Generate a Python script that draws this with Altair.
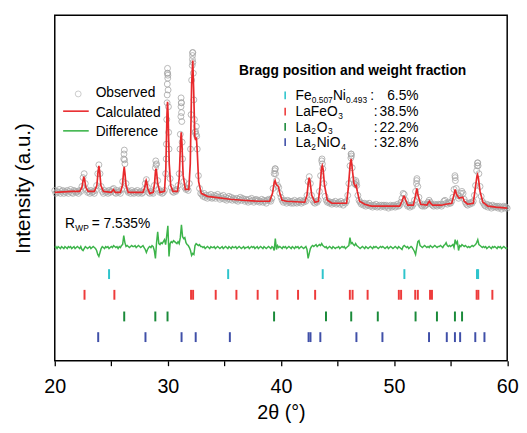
import altair as alt
import pandas as pd
import numpy as np

FONT = "Liberation Sans"

# ---------------- data (arbitrary intensity units) -------------
calc_tth = [20.00, 21.50, 22.20, 22.40, 22.50, 22.57, 22.65, 22.75, 22.95, 23.50,
            23.72, 23.83, 23.90, 23.97, 24.08, 24.30, 25.00, 25.18, 25.35, 25.80,
            25.98, 26.08, 26.14, 26.20, 26.30, 26.50, 27.80, 27.95, 28.03, 28.08,
            28.13, 28.22, 28.40, 28.70, 28.82, 28.90, 28.95, 29.00, 29.10, 29.30,
            29.70, 29.82, 29.92, 29.97, 30.02, 30.12, 30.25, 30.45, 30.85, 31.00,
            31.12, 31.18, 31.24, 31.35, 31.55, 31.85, 31.98, 32.10, 32.20, 32.28,
            32.38, 32.45, 32.52, 32.60, 32.72, 32.95, 33.50, 34.20, 35.50, 36.60,
            38.00, 39.00, 39.25, 39.40, 39.48, 39.58, 39.77, 39.90, 40.10, 40.50,
            42.10, 42.30, 42.42, 42.50, 42.58, 42.72, 43.00, 43.30, 43.45, 43.58,
            43.65, 43.72, 43.85, 44.10, 44.50, 45.80, 45.95, 46.12, 46.21, 46.32,
            46.45, 46.58, 46.65, 46.75, 46.95, 47.40, 48.00, 50.50, 50.70, 50.85,
            50.91, 51.00, 51.20, 51.70, 51.88, 52.01, 52.12, 52.35, 52.90, 53.05,
            53.12, 53.22, 53.40, 54.20, 54.55, 55.10, 55.28, 55.40, 55.52, 55.75,
            56.00, 56.08, 56.20, 56.50, 57.00, 57.18, 57.32, 57.38, 57.45, 57.60,
            57.85, 58.30, 59.00, 60.00]
calc_int = [171, 172, 172, 176, 183, 187, 183, 176, 172, 172,
            178, 192, 198, 192, 178, 172, 171, 174, 171, 171,
            178, 191, 197, 191, 178, 171, 171, 176, 181, 183,
            181, 175, 170, 171, 180, 192, 195, 192, 180, 171,
            172, 195, 250, 263, 250, 200, 178, 172, 172, 185,
            222, 232, 222, 188, 174, 174, 200, 280, 305, 275,
            228, 224, 227, 212, 182, 170, 167, 166, 164, 163,
            162, 162, 170, 181, 183, 179, 177, 170, 163, 162,
            161, 168, 181, 186, 181, 168, 161, 162, 176, 195,
            198, 195, 178, 163, 160, 160, 175, 200, 205, 193,
            180, 177, 178, 172, 162, 159, 157, 157, 162, 167,
            167, 164, 158, 158, 167, 175, 168, 159, 158, 161,
            162, 160, 158, 158, 159, 160, 168, 174, 169, 165,
            166, 166, 162, 159, 160, 175, 187, 189, 186, 172,
            161, 157, 156, 155]

# observed points on a 0.1 degree grid, 20.0 ... 60.0
obs_int = [
    173, 170, 172, 171, 174, 170, 172, 173, 170, 172,
    171, 173, 170, 172, 174, 171, 170, 173, 172, 171,
    172, 170, 173, 172, 177, 186, 190, 180, 174, 171,
    172, 170, 173, 171, 172, 170, 173, 178, 190, 199,
    190, 177, 172, 170, 173, 171, 172, 170, 173, 171,
    172, 174, 175, 171, 170, 173, 171, 172, 170, 174,
    182, 205, 200, 180, 173, 171, 172, 170, 173, 171,
    170, 172, 171, 173, 170, 171, 172, 170, 171, 174,
    180, 184, 176, 171, 170, 172, 171, 170, 178, 196,
    200, 183, 174, 171, 172, 170, 171, 173, 190, 245,
    290, 215, 185, 176, 172, 171, 173, 172, 174, 178,
    190, 230, 262, 205, 182, 176, 174, 175, 173, 180,
    215, 285, 313, 265, 232, 230, 215, 188, 175, 170,
    169, 167, 170, 166, 168, 165, 168, 166, 169, 165,
    166, 168, 165, 167, 169, 166, 164, 167, 165, 168,
    164, 166, 163, 165, 167, 164, 166, 163, 165, 164,
    163, 165, 162, 164, 166, 163, 165, 164, 162, 164,
    163, 161, 164, 162, 165, 163, 161, 163, 164, 162,
    163, 161, 162, 164, 161, 163, 162, 160, 163, 164,
    163, 162, 165, 175, 190, 195, 183, 178, 176, 170,
    166, 163, 161, 163, 162, 160, 163, 161, 162, 160,
    162, 160, 163, 161, 160, 162, 161, 163, 160, 162,
    161, 163, 162, 168, 182, 187, 180, 168, 163, 161,
    160, 162, 161, 163, 172, 188, 203, 195, 180, 167,
    163, 161, 162, 160, 161, 159, 161, 160, 162, 159,
    160, 161, 159, 162, 160, 158, 161, 160, 162, 168,
    180, 198, 210, 196, 184, 180, 179, 178, 168, 163,
    161, 159, 160, 158, 160, 157, 159, 158, 160, 157,
    158, 156, 158, 157, 159, 156, 157, 158, 156, 158,
    157, 158, 156, 158, 157, 155, 157, 158, 156, 157,
    158, 156, 157, 159, 157, 158, 161, 165, 170, 169,
    163, 159, 157, 158, 156, 158, 157, 159, 163, 172,
    183, 177, 166, 160, 158, 157, 159, 157, 158, 159,
    161, 163, 161, 159, 158, 157, 159, 158, 157, 159,
    158, 159, 157, 159, 162, 163, 160, 159, 161, 160,
    160, 162, 166, 174, 186, 175, 168, 165, 167, 170,
    172, 170, 164, 161, 159, 158, 160, 159, 161, 160,
    162, 168, 178, 193, 201, 190, 177, 167, 162, 160,
    158, 157, 159, 156, 158, 157, 155, 158, 156, 157,
    156, 157, 155, 157, 156, 154, 156, 157, 155, 156,
    155]

# extra observed points recorded on the steep peak flanks
obs_extra_tth = [26.12, 26.15, 26.17, 28.93, 28.96, 29.85, 29.87, 29.93, 29.94, 29.95,
                 29.96, 29.97, 29.98, 29.99, 30.02, 30.05, 30.07, 31.07, 31.15, 31.16,
                 31.17, 31.19, 31.21, 31.23, 31.26, 32.05, 32.15, 32.17, 32.18, 32.19,
                 32.21, 32.25, 32.35, 32.45, 32.52, 32.55, 39.45, 39.48, 39.52, 43.63,
                 43.66, 46.18, 46.21, 46.23, 46.62, 46.66, 51.98, 52.02, 55.38, 55.42,
                 57.35, 57.38, 57.43]
obs_extra_int = [210, 214, 204, 203, 199, 205, 220, 262, 270, 281,
                 292, 297, 292, 287, 275, 258, 232, 215, 248, 258,
                 267, 262, 252, 243, 222, 250, 300, 306, 310, 313,
                 303, 292, 245, 233, 238, 228, 193, 195, 190, 205,
                 200, 206, 210, 208, 183, 181, 180, 185, 188, 183,
                 198, 201, 198]

# difference (obs - calc) on the same 0.1 degree grid
diff_int = [
    0, 1, -1, 1, 0, -1, 1, 0, -1, 1,
    0, -1, 1, 0, 1, -1, 0, 1, -1, 0,
    1, 0, -1, 1, -2, -3, -1, 1, 0, -1,
    0, 1, -1, 0, 1, 0, -1, -3, -7, -9,
    -5, -1, 1, 0, -1, 1, 0, 1, -1, 0,
    1, 0, 2, 1, 0, 1, -1, 1, 0, 2,
    3, 12, 5, 1, 2, 1, 0, 1, 2, 1,
    1, 2, 0, 1, 2, 1, 0, 1, 2, 0,
    -2, -5, -2, 0, 1, 0, 2, 1, -3, -11,
    5, 16, 4, 3, 5, 4, 6, 8, 3, 12,
    22, -9, 4, 6, 5, 7, 6, 5, 4, 6,
    4, 10, 23, 11, 9, 10, 5, 3, 2, 0,
    -3, -8, -6, -7, 2, 4, 3, 2, 3, 1,
    1, 0, 1, -1, 0, 1, 0, -1, 1, 0,
    0, 1, -1, 0, 1, 0, -1, 0, 1, -1,
    0, 1, 0, -1, 1, 0, -1, 1, 0, 0,
    1, -1, 0, 1, 0, -1, 0, 1, -1, 0,
    0, 1, -1, 0, 1, 0, 1, -1, 0, 1,
    -1, 0, 1, 0, -1, 1, 0, -1, 0, 1,
    0, -1, 1, 0, -3, 9, -2, 2, 0, 1,
    0, -1, 1, 0, 1, -1, 0, 1, 0, -1,
    1, 0, -1, 1, 0, 1, -1, 0, 1, 0,
    -1, 0, 1, -2, -11, -6, -1, 1, 2, 1,
    2, 3, 1, 2, 3, 2, 4, 2, 1, 0,
    1, -1, 0, 1, 0, -1, 1, 0, -1, 0,
    0, 1, -1, 0, 1, 0, 1, -1, 0, 1,
    2, 10, 4, 5, 3, 2, 4, 2, 1, 0,
    -1, 0, 1, 0, -1, 1, 0, -1, 0, 1,
    0, -1, 1, 0, 1, 0, -1, 0, 1, 0,
    1, 0, -1, 0, 1, -1, 0, 1, 0, -1,
    0, 1, 0, -1, 1, 0, -1, -2, 1, 2,
    1, 0, 1, -1, 0, 1, 0, -2, -4, -7,
    0, 6, 7, 2, 1, 0, 1, 2, 1, 0,
    1, 0, 2, 1, 0, 1, 2, 1, 0, 1,
    1, 2, 1, 0, 2, 3, 5, 2, 1, 2,
    1, 2, 3, 0, 8, 4, 6, -3, 2, 1,
    3, 2, 1, 2, 1, 0, 1, 0, 1, 2,
    1, 2, 3, 5, 8, 3, 2, 1, 0, 1,
    0, 1, -1, 0, 1, 0, -1, 1, 0, 1,
    0, -1, 1, 0, 1, -1, 0, 1, 0, -1,
    0]
DIFF_OFFSET = 115

# Bragg positions
bragg_fe = [24.80, 35.33, 43.69, 50.91, 57.33, 57.43]
bragg_lafeo3 = [22.63, 25.27, 32.05, 32.23, 34.23, 36.06, 37.94, 39.68, 41.51, 43.02,
                46.09, 46.33, 47.66, 50.42, 50.62, 51.87, 52.10, 53.18, 53.35, 57.30,
                57.45, 58.69]
bragg_la2o3 = [26.14, 28.89, 29.97, 39.39, 43.98, 46.21, 48.56, 51.90, 53.79, 55.38, 56.01]
bragg_la2nio4 = [23.84, 28.02, 31.21, 32.46, 35.48, 42.44, 42.61, 43.48, 46.67, 48.97,
                 53.09, 54.66, 55.38, 55.84, 57.18, 57.99]
fractions = ["6.5%", "38.5%", "22.2%", "32.8%"]

# ---------------- styling / layout -------------
phase_keys = ["Fe", "LaFeO3", "La2O3", "La2NiO4"]
phase_colors = ["#2EC4CC", "#EE3B3B", "#1A8A3A", "#3F4FA8"]
row_level = {"Fe": 88, "LaFeO3": 67, "La2O3": 45, "La2NiO4": 24}
HALF = 5

grid = np.round(20.0 + 0.1 * np.arange(len(obs_int)), 2)
obs_df = pd.DataFrame({
    "tth": np.concatenate([grid, obs_extra_tth]),
    "I": np.concatenate([obs_int, obs_extra_int]),
})
calc_df = pd.DataFrame({"tth": calc_tth, "I": calc_int})
diff_df = pd.DataFrame({"tth": grid, "I": np.array(diff_int) + DIFF_OFFSET})

rows = []
for key, lst in zip(phase_keys, [bragg_fe, bragg_lafeo3, bragg_la2o3, bragg_la2nio4]):
    for t in lst:
        rows.append({"tth": t, "phase": key,
                     "y1": row_level[key] - HALF, "y2": row_level[key] + HALF})
bragg_df = pd.DataFrame(rows)

W, H = 459.5, 351
X0, Y0 = 55.5, 12.0
FS = 14
SUB = 8.5
SUBDY = 3.0

xscale = alt.Scale(domain=[20, 60], nice=False, zero=False)
yscale = alt.Scale(domain=[0, 351], nice=False, zero=False)

xaxis = alt.Axis(values=[20, 25, 30, 35, 40, 45, 50, 55, 60],
                 labelExpr="datum.value % 10 === 0 ? datum.label : ''",
                 title="2θ (°)", grid=False, domain=False, tickSize=5,
                 tickColor="black", tickWidth=1.3,
                 labelFontSize=20, labelFont=FONT, labelColor="black", labelPadding=11,
                 titleFontSize=20, titleFont=FONT, titleColor="black",
                 titleFontWeight="normal", titlePadding=7, labelFlush=False)
yaxis = alt.Axis(title="Intensity (a.u.)", labels=False, ticks=False, domain=False,
                 grid=False, titleFontSize=21, titleFont=FONT, titleColor="black",
                 titleFontWeight="normal", titlePadding=22)

obs = alt.Chart(obs_df).mark_point(shape="circle", filled=False, size=36,
                                   stroke="#A6A6A6", strokeWidth=0.8, opacity=1).encode(
    x=alt.X("tth:Q", scale=xscale, axis=xaxis),
    y=alt.Y("I:Q", scale=yscale, axis=yaxis))
calc = alt.Chart(calc_df).mark_line(color="#E8282B", strokeWidth=1.7).encode(
    x=alt.X("tth:Q", scale=xscale), y=alt.Y("I:Q", scale=yscale))
diff = alt.Chart(diff_df).mark_line(color="#3CB44A", strokeWidth=1.5).encode(
    x=alt.X("tth:Q", scale=xscale), y=alt.Y("I:Q", scale=yscale))
ticks = alt.Chart(bragg_df).mark_rule(strokeWidth=2).encode(
    x=alt.X("tth:Q", scale=xscale),
    y=alt.Y("y1:Q", scale=yscale), y2="y2:Q",
    color=alt.Color("phase:N", scale=alt.Scale(domain=phase_keys, range=phase_colors),
                    legend=None))

one = pd.DataFrame({"k": [0]})


def txt(s, px, py, size=FS, weight="normal", align="left"):
    return alt.Chart(one).mark_text(text=s, fontSize=size, fontWeight=weight, align=align,
                                    baseline="alphabetic", font=FONT, color="black").encode(
        x=alt.value(px - X0), y=alt.value(py - Y0))


def hline(px1, px2, py, color):
    return alt.Chart(one).mark_rule(color=color, strokeWidth=1.6).encode(
        x=alt.value(px1 - X0), x2=alt.value(px2 - X0), y=alt.value(py - Y0))


def vbar(px, py1, py2, color):
    return alt.Chart(one).mark_rule(color=color, strokeWidth=1.6).encode(
        x=alt.value(px - X0), y=alt.value(py1 - Y0), y2=alt.value(py2 - Y0))


r1, r2, r3, r4 = 98.3, 114.5, 130.2, 146.3
annot = [
    alt.Chart(one).mark_point(shape="circle", filled=False, size=36, stroke="#A6A6A6",
                              strokeWidth=0.8).encode(x=alt.value(79.3 - X0), y=alt.value(92 - Y0)),
    txt("Observed", 97, 95.5),
    hline(64, 90, 109.5, "#E8282B"),
    txt("Calculated", 97, 115),
    hline(64, 90, 129.5, "#3CB44A"),
    txt("Difference", 97, 134.5),
    txt("R", 66, 228),
    txt("WP", 76.3, 228 + SUBDY, size=SUB),
    txt("= 7.535%", 93, 228),
    txt("Bragg position and weight fraction", 242.7, 73, weight="bold"),
    # row 1
    vbar(289.5, r1 - 8.8, r1 - 0.8, phase_colors[0]),
    txt("Fe", 300, r1), txt("0.507", 316.6, r1 + SUBDY, size=SUB),
    txt("Ni", 338, r1), txt("0.493", 351.4, r1 + SUBDY, size=SUB),
    txt(":", 376, r1), txt(fractions[0], 425, r1, align="right"),
    # row 2
    vbar(289.5, r2 - 8.5, r2 - 0.5, phase_colors[1]),
    txt("LaFeO", 300, r2), txt("3", 343.5, r2 + SUBDY, size=SUB),
    txt(":", 379.5, r2), txt(fractions[1], 425, r2, align="right"),
    # row 3
    vbar(289.5, r3 - 8.7, r3 - 0.7, phase_colors[2]),
    txt("La", 300, r3), txt("2", 316, r3 + SUBDY, size=SUB),
    txt("O", 321.5, r3), txt("3", 333, r3 + SUBDY, size=SUB),
    txt(":", 379.5, r3), txt(fractions[2], 425, r3, align="right"),
    # row 4
    vbar(289.5, r4 - 9.3, r4 - 1.3, phase_colors[3]),
    txt("La", 300, r4), txt("2", 316, r4 + SUBDY, size=SUB),
    txt("NiO", 321.5, r4), txt("4", 346.5, r4 + SUBDY, size=SUB),
    txt(":", 379.5, r4), txt(fractions[3], 425, r4, align="right"),
]

chart = alt.layer(obs, calc, diff, ticks, *annot).properties(
    width=W, height=H,
    autosize=alt.AutoSizeParams(type="none"),
    padding={"left": 47.5, "top": 4, "right": 12, "bottom": 64},
).configure_view(stroke="black", strokeWidth=1.5)

chart.save("out.html", embed_options={"renderer": "svg", "actions": False})
